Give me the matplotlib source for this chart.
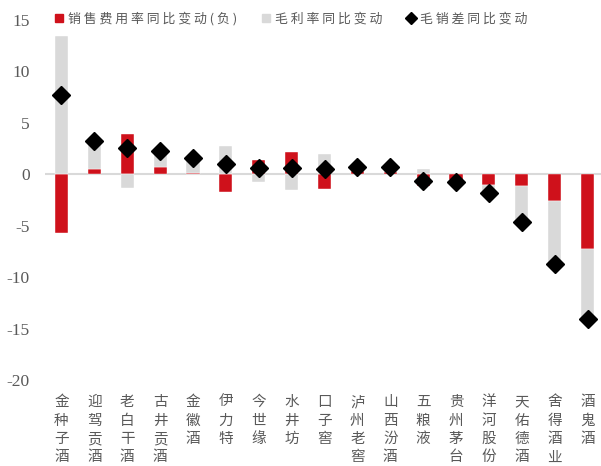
import matplotlib
matplotlib.use("Agg")
import matplotlib.pyplot as plt
from matplotlib.lines import Line2D
import numpy as np

C_RED = "#CF111B"
C_GRAY = "#D9D9D9"
C_TEXT = "#595959"

companies = ["金种子酒", "迎驾贡酒", "老白干酒", "古井贡酒", "金徽酒", "伊力特", "今世缘",
             "水井坊", "口子窖", "泸州老窖", "山西汾酒", "五粮液", "贵州茅台", "洋河股份",
             "天佑德酒", "舍得酒业", "酒鬼酒"]
# 销售费用率同比变动(负), pct
sales_exp_chg = [-5.74, 0.55, 3.95, 0.75, 0.15, -1.75, 1.40, 2.20, -1.45, 0.35, 0.20,
                 -1.10, -0.55, -1.05, -1.14, -2.57, -7.23]
# 毛利率同比变动, pct
gross_chg = [13.44, 2.65, -1.35, 1.55, 1.40, 2.75, -0.75, -1.55, 2.00, 0.33, 0.48,
             0.48, -0.17, -0.80, -3.50, -6.18, -6.84]
# 毛销差同比变动, pct
spread_chg = [7.70, 3.20, 2.60, 2.30, 1.55, 1.00, 0.65, 0.65, 0.55, 0.68, 0.68,
              -0.62, -0.72, -1.85, -4.64, -8.75, -14.07]
yticks = [-20, -15, -10, -5, 0, 5, 10, 15]

plt.rcParams["font.family"] = ["Noto Sans CJK SC", "DejaVu Sans"]
plt.rcParams["axes.unicode_minus"] = False

fig = plt.figure(figsize=(6.01, 4.66), dpi=100)
ax = fig.add_axes([45 / 601, 1 - 380 / 466, 559 / 601, 360 / 466])

x = np.arange(len(companies))
red = np.array(sales_exp_chg)
gray = np.array(gross_chg)
# positive and negative parts stack separately, red at the base
gray_base = np.where(np.sign(gray) == np.sign(red), red, 0)

ax.axhline(0, color=C_GRAY, lw=1.5, zorder=1)
ax.bar(x, red, width=0.4, color=C_RED, edgecolor="white", linewidth=0.3, zorder=2)
ax.bar(x, gray, width=0.4, bottom=gray_base, color=C_GRAY, edgecolor="white",
       linewidth=0.3, zorder=2)
ax.plot(x, spread_chg, ls="none", marker="D", markersize=9, color="black", zorder=3)

ax.set_xlim(-0.5, len(companies) - 0.5)
ax.set_ylim(-20, 15)
ax.set_yticks(yticks)
ax.set_yticklabels([str(v) for v in yticks], fontfamily="Liberation Serif", fontsize=12.5,
                   color=C_TEXT)
ax.set_xticks(x)
ax.set_xticklabels(["\n".join(c) for c in companies], fontsize=10.5, color=C_TEXT,
                   linespacing=1.4, va="top")
ax.tick_params(axis="y", length=0, pad=11)
ax.tick_params(axis="x", length=0, pad=11)
for s in ax.spines.values():
    s.set_visible(False)


def spaced(s):
    return " ".join(s)


handles = [
    Line2D([], [], ls="none", marker="s", markersize=5.5, color=C_RED),
    Line2D([], [], ls="none", marker="s", markersize=5.5, color=C_GRAY),
    Line2D([], [], ls="none", marker="D", markersize=6.5, color="black"),
]
labels = [spaced("销售费用率同比变动") + " ( 负 )", spaced("毛利率同比变动"), spaced("毛销差同比变动")]
leg = fig.legend(handles, labels, loc="center left", bbox_to_anchor=(54 / 601, 1 - 19 / 466),
                 ncol=3, frameon=False, fontsize=9.3, handlelength=0.8, handletextpad=0.3,
                 columnspacing=1.8, borderpad=0, borderaxespad=0)
for t in leg.get_texts():
    t.set_color(C_TEXT)

fig.savefig("out.png", dpi=100)
